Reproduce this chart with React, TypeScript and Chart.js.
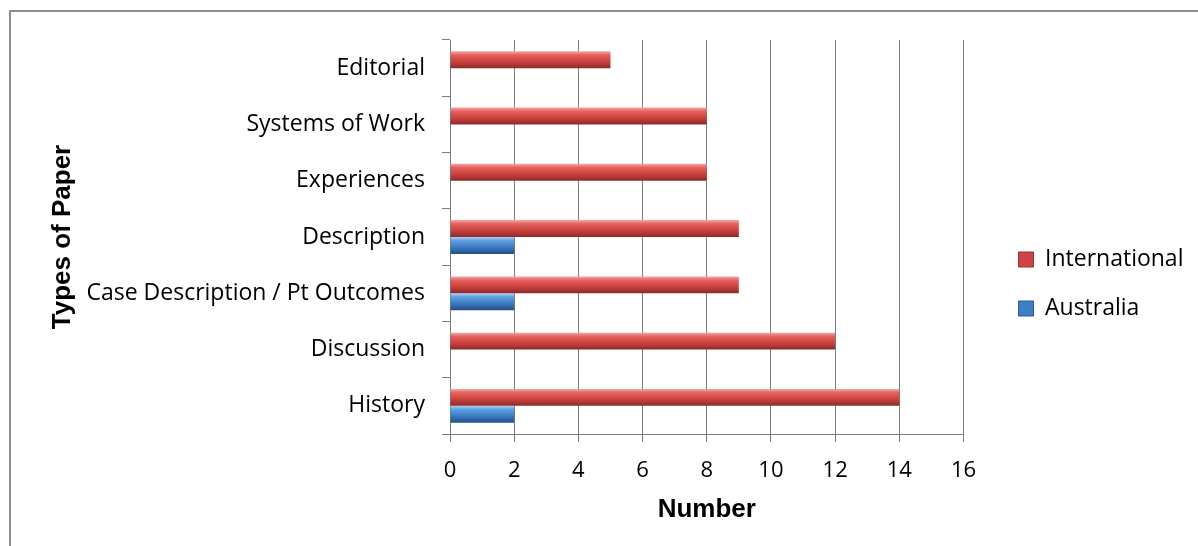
import React, { useEffect, useRef } from "react";
import { Chart, registerables, layouts } from "chart.js";

Chart.register(...registerables);

const categories = [
  "Editorial",
  "Systems of Work",
  "Experiences",
  "Description",
  "Case Description / Pt Outcomes",
  "Discussion",
  "History",
];
const internationalValues = [5, 8, 8, 9, 9, 12, 14];
const australiaValues = [0, 0, 0, 2, 2, 0, 2];
const seriesNames = ["International", "Australia"];
const xTicks = [0, 2, 4, 6, 8, 10, 12, 14, 16];

const CAT_PCT = 0.6;

const redStops: [number, string][] = [
  [0, "#f6a7a4"],
  [0.22, "#e4625e"],
  [0.6, "#cc423f"],
  [1, "#8c2a28"],
];
const blueStops: [number, string][] = [
  [0, "#aad2f7"],
  [0.22, "#5e9fe0"],
  [0.6, "#3c7ac2"],
  [1, "#244f88"],
];

function barGradient(ctx: any, stops: [number, string][], dsIndex: number, solid: string) {
  const chart = ctx.chart;
  const y = chart.scales && chart.scales.y;
  if (!y || ctx.type !== "data" || !chart.chartArea) return solid;
  const center = y.getPixelForValue(ctx.dataIndex);
  const band = (y.bottom - y.top) / categories.length;
  const thick = (band * CAT_PCT) / 2;
  const top = dsIndex === 0 ? center - thick : center;
  const g = chart.ctx.createLinearGradient(0, top, 0, top + thick);
  stops.forEach(([o, c]) => g.addColorStop(o, c));
  return g;
}

function makeSpacer(position: string, size: number) {
  const horizontal = position === "top" || position === "bottom";
  const box: any = {
    position,
    weight: 500,
    fullSize: false,
    options: { stackWeight: 1 },
    width: 0,
    height: 0,
    left: 0,
    top: 0,
    right: 0,
    bottom: 0,
    isHorizontal() {
      return horizontal;
    },
    update(maxWidth: number, maxHeight: number) {
      if (horizontal) {
        box.width = maxWidth;
        box.height = size;
      } else {
        box.width = size;
        box.height = maxHeight;
      }
    },
    draw() {},
  };
  return box;
}

const spacerPlugin = {
  id: "layoutSpacers",
  beforeInit(chart: any) {
    layouts.addBox(chart, makeSpacer("right", 29));
    layouts.addBox(chart, makeSpacer("top", 18));
  },
};

export default function App() {
  const ref = useRef<HTMLCanvasElement>(null);
  useEffect(() => {
    if (!ref.current) return;
    const chart = new Chart(ref.current, {
      type: "bar",
      data: {
        labels: categories,
        datasets: [
          {
            label: seriesNames[0],
            data: internationalValues,
            backgroundColor: (c: any) => barGradient(c, redStops, 0, "#cc423f"),
            borderWidth: 0,
            categoryPercentage: CAT_PCT,
            barPercentage: 1,
          },
          {
            label: seriesNames[1],
            data: australiaValues,
            backgroundColor: (c: any) => barGradient(c, blueStops, 1, "#3c7ac2"),
            borderWidth: 0,
            categoryPercentage: CAT_PCT,
            barPercentage: 1,
          },
        ],
      },
      options: {
        indexAxis: "y",
        animation: false,
        responsive: false,
        maintainAspectRatio: false,
        layout: { padding: { top: 22, left: 10, right: 9, bottom: 0 } },
        plugins: {
          tooltip: { enabled: false },
          legend: {
            position: "right",
            labels: {
              boxWidth: 15,
              boxHeight: 15,
              padding: 26,
              color: "#000",
              font: { family: "'Open Sans'", size: 23 },
              generateLabels: () => [
                { text: seriesNames[0], fillStyle: "#cd4643", strokeStyle: "#9a3230", lineWidth: 1, datasetIndex: 0 },
                { text: seriesNames[1], fillStyle: "#3f7dc6", strokeStyle: "#2b5a94", lineWidth: 1, datasetIndex: 1 },
              ],
            },
          },
        },
        scales: {
          x: {
            min: 0,
            max: 16,
            afterBuildTicks: (s: any) => {
              s.ticks = xTicks.map((v) => ({ value: v }));
            },
            afterFit: (s: any) => {
              s.height = 112;
            },
            ticks: {
              color: "#000",
              font: { family: "'Open Sans'", size: 22 },
              padding: 16,
            },
            grid: { color: "#7d7d7d", lineWidth: 1, tickLength: 8, drawTicks: true },
            border: { color: "#7d7d7d", width: 1 },
            title: {
              display: true,
              text: "Number",
              color: "#000",
              font: { family: "'Liberation Sans'", size: 26, weight: "bold" },
              padding: { top: 0, bottom: 21 },
            },
          },
          y: {
            afterFit: (s: any) => {
              s.width = 440;
            },
            ticks: {
              color: "#000",
              font: { family: "'Open Sans'", size: 23 },
              padding: 17,
              autoSkip: false,
            },
            grid: { drawOnChartArea: false, drawTicks: true, tickLength: 8, color: "#7d7d7d", offset: true },
            border: { color: "#7d7d7d", width: 1 },
            title: {
              display: true,
              text: "Types of Paper",
              color: "#000",
              font: { family: "'Liberation Sans'", size: 26, weight: "bold" },
              padding: { top: 37, bottom: 0 },
            },
          },
        },
      },
      plugins: [spacerPlugin],
    } as any);
    return () => chart.destroy();
  }, []);
  return (
    <div style={{ position: "fixed", left: 0, top: 0, width: 1198, height: 546, overflow: "hidden", background: "#fff" }}>
      <div
        style={{
          position: "absolute",
          left: 9,
          top: 10,
          width: 1400,
          height: 800,
          borderTop: "2px solid #8f8f8f",
          borderLeft: "2px solid #8f8f8f",
        }}
      />
      <canvas ref={ref} width={1198} height={546} style={{ position: "absolute", left: 0, top: 0, width: 1198, height: 546 }} />
    </div>
  );
}
